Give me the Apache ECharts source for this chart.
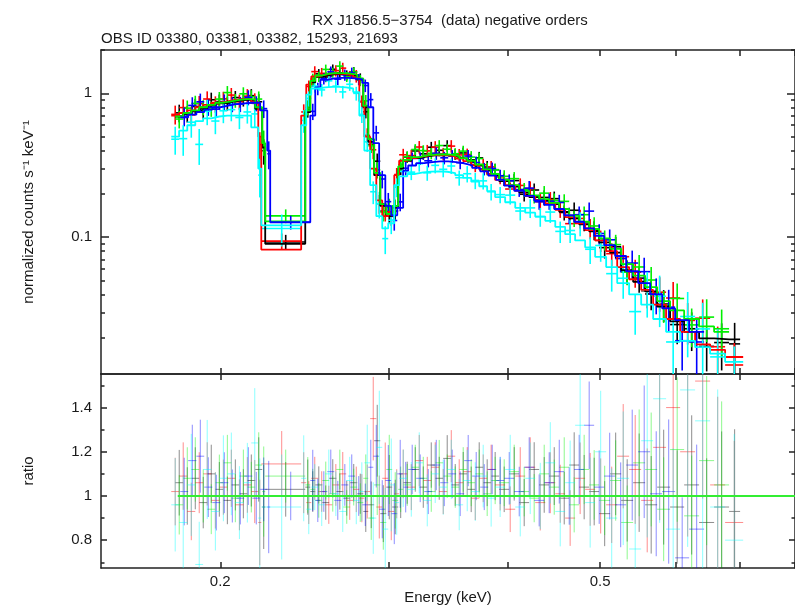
<!DOCTYPE html>
<html>
<head>
<meta charset="utf-8">
<title>RX J1856.5-3754 negative orders</title>
<script src="https://cdn.jsdelivr.net/npm/echarts@6/dist/echarts.min.js"></script>
<style>
  html, body { margin: 0; padding: 0; background: #ffffff; }
  #chart { width: 795px; height: 607px; }
</style>
</head>
<body>
<div id="chart"></div>
<script>
// ---- Spectral grouping: bin edges in keV (three grouping schemes) ----
const edgesA = [0.1794,0.1829,0.1865,0.1901,0.1938,0.1976,0.2015,0.2054,0.2094,0.2135,
  0.2176,0.2213,0.2229,0.2455,0.2485,0.2515,0.2558,0.2601,0.2646,0.2691,
  0.2736,0.2783,0.2824,0.2858,0.2899,0.2942,0.2985,0.3028,0.3072,0.3109,
  0.3170,0.3232,0.3295,0.3359,0.3424,0.3491,0.3559,0.3628,0.3699,0.3771,
  0.3844,0.3919,0.4015,0.4113,0.4213,0.4316,0.4422,0.4530,0.4640,0.4753,
  0.4869,0.4988,0.5122,0.5260,0.5414,0.5573,0.5737,0.5919,0.6123,0.6348,
  0.6582,0.6824,0.7008];
const edgesB = [0.1777,0.1811,0.1847,0.1883,0.1919,0.1957,0.1996,0.2034,0.2074,0.2115,
  0.2155,0.2192,0.2208,0.2431,0.2461,0.2491,0.2533,0.2576,0.2621,0.2665,
  0.2710,0.2756,0.2797,0.2831,0.2871,0.2914,0.2956,0.2999,0.3043,0.3079,
  0.3140,0.3201,0.3263,0.3327,0.3391,0.3458,0.3525,0.3593,0.3664,0.3735,
  0.3807,0.3881,0.3976,0.4074,0.4173,0.4275,0.4380,0.4487,0.4595,0.4707,
  0.4822,0.4940,0.5073,0.5210,0.5362,0.5520,0.5682,0.5862,0.6064,0.6287,
  0.6519,0.6759,0.7060];
const edgesC = [0.1816,0.1851,0.1888,0.1924,0.1962,0.2000,0.2039,0.2079,0.2119,0.2161,
  0.2202,0.2240,0.2256,0.2485,0.2515,0.2546,0.2589,0.2633,0.2678,0.2724,
  0.2769,0.2817,0.2858,0.2893,0.2934,0.2978,0.3021,0.3065,0.3109,0.3147,
  0.3208,0.3271,0.3335,0.3400,0.3466,0.3533,0.3602,0.3672,0.3744,0.3817,
  0.3891,0.3967,0.4064,0.4163,0.4264,0.4368,0.4476,0.4585,0.4696,0.4811,
  0.4928,0.5049,0.5184,0.5324,0.5480,0.5641,0.5807,0.5991,0.6197,0.6425];

// ---- Folded model (counts s^-1 keV^-1), data/model ratio, fractional 1-sigma error ----
// ObsID 03380
const blackModel = [0.69,0.72,0.75,0.78,0.82,0.85,0.87,0.89,0.90,0.90,0.78,
  0.42,0.090,0.74,1.19,
  1.30,1.34,1.36,1.36,1.35,1.33,1.25,0.80,
  0.46,0.27,0.165,0.14,0.16,0.30,
  0.34,0.355,0.365,0.37,0.372,0.37,0.36,0.35,0.335,0.315,0.29,0.27,
  0.245,0.225,0.205,0.19,0.18,0.17,0.15,0.135,0.123,0.11,
  0.092,0.078,0.059,0.049,0.042,0.033,0.026,0.022,0.0198,0.0195,0.0195];
const blackRatio = [1.06,1.00,1.08,0.97,1.10,1.03,0.98,1.05,1.01,1.07,1.12,
  0.95,1.03,1.04,1.02,
  1.05,0.97,1.08,1.02,0.99,1.06,1.01,0.93,
  0.96,1.25,0.92,1.04,0.95,1.00,
  1.06,1.12,1.04,1.14,1.08,1.17,1.05,1.10,1.03,1.13,1.06,1.09,
  1.03,1.10,0.97,1.12,1.05,1.09,0.99,1.14,1.04,1.02,
  0.92,1.10,0.98,1.06,0.96,1.04,0.95,1.05,0.88,0.95,0.93];
const blackErr = [0.14,0.13,0.13,0.12,0.12,0.12,0.11,0.11,0.11,0.11,0.13,
  0.20,0.12,0.12,0.09,
  0.08,0.08,0.08,0.08,0.08,0.08,0.09,0.10,
  0.11,0.13,0.14,0.14,0.13,0.10,
  0.09,0.09,0.09,0.09,0.09,0.09,0.09,0.09,0.10,0.10,0.10,0.10,
  0.10,0.11,0.11,0.11,0.12,0.12,0.12,0.13,0.14,0.15,
  0.16,0.17,0.19,0.21,0.23,0.25,0.27,0.30,0.33,0.36,0.40];

// ObsID 03381
const redModel = [0.70,0.73,0.76,0.80,0.83,0.86,0.88,0.90,0.91,0.91,0.86,
  0.50,0.082,0.70,1.15,
  1.31,1.35,1.37,1.37,1.36,1.34,1.28,0.88,
  0.50,0.30,0.18,0.14,0.15,0.27,
  0.34,0.355,0.365,0.372,0.374,0.372,0.364,0.352,0.338,0.318,0.295,0.275,
  0.25,0.23,0.21,0.193,0.182,0.172,0.155,0.138,0.125,0.112,
  0.095,0.080,0.062,0.051,0.043,0.034,0.027,0.022,0.018,0.0165,0.0147];
const redRatio = [1.02,1.09,0.93,1.06,1.10,0.98,1.04,1.08,0.96,1.05,1.02,
  0.88,1.145,1.06,0.97,
  1.08,1.02,0.96,1.05,1.10,0.98,1.03,0.99,
  1.02,1.35,0.95,1.08,0.93,1.01,
  1.10,1.04,1.16,1.07,1.13,1.02,1.18,1.06,1.11,0.99,1.08,1.12,
  1.05,0.94,1.09,1.13,0.97,1.06,1.01,0.90,1.08,1.03,
  1.00,0.96,1.18,1.12,0.98,1.22,1.40,1.20,1.52,1.05,0.88];
const redErr = [0.15,0.14,0.14,0.13,0.13,0.13,0.12,0.12,0.12,0.12,0.14,
  0.22,0.13,0.13,0.10,
  0.09,0.09,0.09,0.09,0.09,0.09,0.10,0.11,
  0.12,0.14,0.15,0.15,0.14,0.11,
  0.10,0.10,0.10,0.10,0.10,0.10,0.10,0.10,0.10,0.10,0.10,0.10,
  0.11,0.11,0.12,0.12,0.13,0.13,0.13,0.14,0.15,0.16,
  0.17,0.18,0.20,0.22,0.24,0.27,0.29,0.32,0.35,0.38,0.42];

// ObsID 03382
const greenModel = [0.69,0.73,0.76,0.80,0.83,0.86,0.88,0.90,0.91,0.91,0.80,
  0.45,0.129,0.76,1.22,
  1.33,1.37,1.38,1.38,1.37,1.35,1.27,0.82,
  0.48,0.28,0.17,0.145,0.165,0.31,
  0.345,0.36,0.37,0.375,0.377,0.375,0.366,0.354,0.34,0.32,0.296,0.275,
  0.25,0.23,0.21,0.195,0.184,0.173,0.157,0.141,0.128,0.114,
  0.098,0.083,0.065,0.054,0.045,0.036,0.031,0.027,0.024,0.022];
const greenRatio = [0.96,1.08,1.12,1.00,0.94,1.06,1.15,0.99,1.09,1.04,1.14,
  1.02,1.09,1.05,1.03,
  0.98,1.07,1.01,1.12,0.95,1.04,0.97,1.08,
  0.90,1.05,0.88,1.12,0.98,1.03,
  1.05,1.13,1.08,1.02,1.15,1.09,1.04,1.12,1.06,1.10,1.01,1.07,
  1.06,1.11,1.02,0.99,1.10,1.04,1.13,0.96,1.12,1.05,
  0.98,1.07,0.88,1.15,1.12,0.94,1.21,0.91,1.16,1.05];
const greenErr = [0.14,0.13,0.13,0.12,0.12,0.12,0.11,0.11,0.11,0.11,0.13,
  0.20,0.11,0.12,0.09,
  0.08,0.08,0.08,0.08,0.08,0.08,0.09,0.10,
  0.11,0.13,0.14,0.14,0.13,0.10,
  0.09,0.09,0.09,0.09,0.09,0.09,0.09,0.09,0.10,0.10,0.10,0.10,
  0.10,0.11,0.11,0.11,0.12,0.12,0.12,0.13,0.14,0.15,
  0.16,0.17,0.19,0.21,0.23,0.25,0.27,0.30,0.33,0.36];

// ObsID 15293
const blueModel = [0.68,0.71,0.74,0.77,0.80,0.82,0.84,0.85,0.86,0.86,0.76,
  0.40,0.127,0.70,1.10,
  1.24,1.27,1.28,1.28,1.27,1.25,1.18,0.80,
  0.45,0.27,0.165,0.142,0.16,0.29,
  0.315,0.327,0.333,0.336,0.336,0.333,0.326,0.316,0.303,0.287,0.268,0.25,
  0.228,0.21,0.194,0.18,0.168,0.157,0.142,0.128,0.115,0.102,
  0.088,0.074,0.058,0.048,0.040,0.032,0.0265,0.022];
const blueRatio = [1.02,1.16,1.18,1.04,0.97,1.06,1.00,0.99,1.09,0.99,1.03,
  0.95,1.00,1.07,0.98,
  1.02,1.11,0.98,1.05,1.09,1.00,0.96,1.13,
  1.18,0.94,1.07,0.92,1.10,1.04,
  1.12,1.08,1.02,1.14,1.06,1.10,1.01,1.16,1.09,1.04,1.12,1.07,
  1.08,1.02,1.13,0.98,1.06,1.11,1.00,1.12,1.32,1.04,
  1.09,0.96,1.14,1.20,1.01,1.02,0.72,0.85];
const blueErr = [0.15,0.14,0.14,0.13,0.13,0.13,0.12,0.12,0.12,0.12,0.14,
  0.22,0.11,0.13,0.10,
  0.09,0.09,0.09,0.09,0.09,0.09,0.10,0.11,
  0.12,0.14,0.15,0.15,0.14,0.11,
  0.10,0.10,0.10,0.10,0.10,0.10,0.10,0.10,0.10,0.10,0.10,0.10,
  0.11,0.11,0.12,0.12,0.13,0.13,0.13,0.14,0.15,0.16,
  0.18,0.20,0.22,0.25,0.28,0.32,0.38,0.45];

// ObsID 21693
const cyanModel = [0.50,0.55,0.60,0.64,0.67,0.69,0.70,0.70,0.70,0.70,0.58,
  0.30,0.121,0.60,0.98,
  1.08,1.10,1.11,1.11,1.10,1.08,1.02,0.70,
  0.40,0.23,0.14,0.115,0.125,0.23,
  0.265,0.275,0.282,0.286,0.287,0.285,0.279,0.27,0.258,0.243,0.226,0.209,
  0.19,0.175,0.16,0.148,0.139,0.13,0.118,0.105,0.095,0.085,
  0.073,0.062,0.048,0.040,0.034,0.027,0.022,0.019,0.0172,0.0155,0.0136];
const cyanRatio = [0.96,0.88,1.05,0.69,1.12,0.93,1.08,1.10,0.97,1.06,1.24,
  0.90,0.95,1.08,0.94,
  1.04,0.96,1.10,1.01,0.93,1.07,0.98,1.02,
  1.15,0.90,1.22,0.85,1.05,0.97,
  1.08,1.03,1.15,0.98,1.10,1.04,1.12,0.96,1.07,1.02,1.09,0.99,
  1.04,1.12,0.95,1.08,1.00,1.15,0.93,1.06,1.32,0.97,
  1.20,0.90,1.08,0.76,1.25,1.44,0.85,1.48,1.34,0.95,0.80];
const cyanErr = [0.22,0.24,0.22,0.28,0.20,0.19,0.18,0.17,0.17,0.17,0.20,
  0.30,0.25,0.18,0.12,
  0.10,0.10,0.10,0.10,0.10,0.10,0.11,0.13,
  0.15,0.18,0.21,0.22,0.20,0.15,
  0.12,0.12,0.12,0.12,0.12,0.12,0.12,0.12,0.13,0.13,0.13,0.13,
  0.13,0.14,0.14,0.15,0.15,0.16,0.17,0.18,0.19,0.21,
  0.23,0.25,0.28,0.31,0.35,0.39,0.43,0.48,0.52,0.56,0.60];

// ---- Axis ticks and labels ----
const energyTicks = [0.2, 0.3, 0.4, 0.5, 0.6, 0.7, 0.8];
const energyLabels = [0.2, 0.5];
const countMajor = [0.1, 1];
const countMinor = [0.02,0.03,0.04,0.05,0.06,0.07,0.08,0.09,0.2,0.3,0.4,0.5,0.6,0.7,0.8,0.9,2];
const ratioMajor = [0.8, 1, 1.2, 1.4];
const ratioMinor = [0.7, 0.9, 1.1, 1.3, 1.5];

const titleText = 'RX J1856.5\u22123754  (data) negative orders';
const obsText = 'OBS ID 03380, 03381, 03382, 15293, 21693';

// ---- Chart ----
const FONT = "'Liberation Sans', Arial, Helvetica, sans-serif";
const INK = '#1a1a1a';
const FRAME = { color: '#222222', width: 1.5 };

const sets = [
  { obs: '03380', color: '#000000', edges: edgesA, model: blackModel, ratio: blackRatio, err: blackErr },
  { obs: '03381', color: '#ff0000', edges: edgesB, model: redModel,   ratio: redRatio,   err: redErr },
  { obs: '03382', color: '#00f000', edges: edgesA, model: greenModel, ratio: greenRatio, err: greenErr },
  { obs: '15293', color: '#0000ff', edges: edgesC, model: blueModel,  ratio: blueRatio,  err: blueErr },
  { obs: '21693', color: '#00ffff', edges: edgesB, model: cyanModel,  ratio: cyanRatio,  err: cyanErr }
];

// Error cross: horizontal bar over the bin, vertical bar over +/- 1 sigma, clipped to the panel.
function crossRenderer(color, width, opacity) {
  return function (params, api) {
    const cs = params.coordSys;
    const top = cs.y, bot = cs.y + cs.height;
    const lo = api.value(0), hi = api.value(1), v = api.value(2);
    const vl = api.value(3), vh = api.value(4);
    const mid = (lo + hi) / 2;
    const a = api.coord([lo, v]);
    const b = api.coord([hi, v]);
    const c = api.coord([mid, vh]);
    const d = api.coord([mid, vl]);
    let yTop = isFinite(c[1]) ? c[1] : top;
    let yBot = isFinite(d[1]) ? d[1] : bot;
    yTop = Math.max(top, yTop);
    yBot = Math.min(bot, yBot);
    const style = { stroke: color, lineWidth: width, opacity: opacity };
    const children = [];
    if (yBot > yTop) {
      children.push({ type: 'line', shape: { x1: c[0], y1: yTop, x2: c[0], y2: yBot }, style: style });
    }
    if (a[1] >= top && a[1] <= bot) {
      children.push({ type: 'line', shape: { x1: a[0], y1: a[1], x2: b[0], y2: b[1] }, style: style });
    }
    return { type: 'group', children: children };
  };
}

function energyAxis(gridIndex, position, showLabels, name) {
  const ax = {
    type: 'log', logBase: 10, gridIndex: gridIndex, position: position,
    min: 0.15, max: 0.8,
    axisLine: { show: true, onZero: false, lineStyle: FRAME },
    axisTick: { show: true, inside: true, length: 6, customValues: energyTicks, lineStyle: FRAME },
    axisLabel: {
      show: showLabels, customValues: energyLabels, margin: 6,
      fontSize: 15, color: INK, fontFamily: FONT,
      formatter: function (v) { return String(+Number(v).toPrecision(6)); }
    },
    splitLine: { show: false },
    minorTick: { show: false }
  };
  if (name) {
    ax.name = name;
    ax.nameLocation = 'middle';
    ax.nameGap = 22;
    ax.nameTextStyle = { fontSize: 15, color: INK, fontFamily: FONT };
  }
  return ax;
}

function valueAxis(opts) {
  const ax = {
    type: opts.log ? 'log' : 'value', gridIndex: opts.grid, position: opts.position,
    min: opts.min, max: opts.max,
    axisLine: { show: opts.line, onZero: false, lineStyle: FRAME },
    axisTick: { show: true, inside: true, length: opts.tick, customValues: opts.ticks, lineStyle: FRAME },
    axisLabel: opts.labels ? {
      show: true, customValues: opts.ticks, margin: 9,
      fontSize: 15, color: INK, fontFamily: FONT,
      formatter: function (v) { return String(+Number(v).toPrecision(6)); }
    } : { show: false },
    splitLine: { show: false },
    minorTick: { show: false }
  };
  if (opts.log) ax.logBase = 10;
  if (opts.name) {
    ax.name = opts.name;
    ax.nameLocation = 'middle';
    ax.nameGap = 65;
    ax.nameTextStyle = { fontSize: 15, color: INK, fontFamily: FONT };
  }
  return ax;
}

const CMIN = 0.0112, CMAX = 2.0;
const RMIN = 0.674, RMAX = 1.552;

const yAxes = [
  valueAxis({ log: true, grid: 0, position: 'left', min: CMIN, max: CMAX, line: true, tick: 8, ticks: countMajor, labels: true,
              name: 'normalized counts s\u207B\u00B9 keV\u207B\u00B9' }),
  valueAxis({ log: true, grid: 0, position: 'left', min: CMIN, max: CMAX, line: false, tick: 4, ticks: countMinor }),
  valueAxis({ log: true, grid: 0, position: 'right', min: CMIN, max: CMAX, line: true, tick: 8, ticks: countMajor }),
  valueAxis({ log: true, grid: 0, position: 'right', min: CMIN, max: CMAX, line: false, tick: 4, ticks: countMinor }),
  valueAxis({ grid: 1, position: 'left', min: RMIN, max: RMAX, line: true, tick: 6, ticks: ratioMajor, labels: true, name: 'ratio' }),
  valueAxis({ grid: 1, position: 'left', min: RMIN, max: RMAX, line: false, tick: 3.5, ticks: ratioMinor }),
  valueAxis({ grid: 1, position: 'right', min: RMIN, max: RMAX, line: true, tick: 6, ticks: ratioMajor }),
  valueAxis({ grid: 1, position: 'right', min: RMIN, max: RMAX, line: false, tick: 3.5, ticks: ratioMinor })
];

const xAxes = [
  energyAxis(0, 'bottom', false),
  energyAxis(0, 'top', false),
  energyAxis(1, 'bottom', true, 'Energy (keV)'),
  energyAxis(1, 'top', false)
];

const series = [];
const ratioSeries = [];
sets.forEach(function (s) {
  const n = s.model.length;
  const crosses = [], ratios = [], steps = [];
  for (let i = 0; i < n; i++) {
    const lo = s.edges[i], hi = s.edges[i + 1];
    const r = s.ratio[i];
    const d = s.model[i] * r;          // observed rate
    const e = d * s.err[i];            // 1-sigma error on the rate
    const re = r * s.err[i];           // 1-sigma error on the ratio
    crosses.push([lo, hi, d, d - e, d + e]);
    ratios.push([lo, hi, r, r - re, r + re]);
    steps.push([lo, s.model[i]]);
  }
  steps.push([s.edges[n], s.model[n - 1]]);

  series.push({
    name: 'data ' + s.obs, type: 'custom', xAxisIndex: 0, yAxisIndex: 0,
    data: crosses, encode: { x: [0, 1], y: [2, 3, 4] },
    renderItem: crossRenderer(s.color, 1.6, 1), silent: true
  });
  series.push({
    name: 'model ' + s.obs, type: 'line', xAxisIndex: 0, yAxisIndex: 0,
    data: steps, step: 'end', symbol: 'none', silent: true,
    lineStyle: { color: s.color, width: 1.8 }
  });
  ratioSeries.push({
    name: 'ratio ' + s.obs, type: 'custom', xAxisIndex: 2, yAxisIndex: 4,
    data: ratios, encode: { x: [0, 1], y: [2, 3, 4] },
    renderItem: crossRenderer(s.color, 1, 0.45), silent: true
  });
});

const unity = {
  name: 'unity', type: 'line', xAxisIndex: 2, yAxisIndex: 4,
  data: [[0.1805, 1], [0.8, 1]], symbol: 'none', silent: true,
  lineStyle: { color: '#33ee33', width: 2 }
};

const chart = echarts.init(document.getElementById('chart'), null, { renderer: 'canvas' });
chart.setOption({
  animation: false,
  backgroundColor: '#ffffff',
  textStyle: { fontFamily: FONT },
  grid: [
    { left: 101, top: 50, width: 695, height: 324 },
    { left: 101, top: 374, width: 695, height: 194 }
  ],
  xAxis: xAxes,
  yAxis: yAxes,
  graphic: [
    { type: 'text', x: 450, y: 21, silent: true,
      style: { text: titleText, align: 'center', verticalAlign: 'middle', fontSize: 15, fontFamily: FONT, fill: INK } },
    { type: 'text', x: 101, y: 39, silent: true,
      style: { text: obsText, align: 'left', verticalAlign: 'middle', fontSize: 15, fontFamily: FONT, fill: INK } }
  ],
  series: series.concat(ratioSeries, [unity])
});
</script>
</body>
</html>
